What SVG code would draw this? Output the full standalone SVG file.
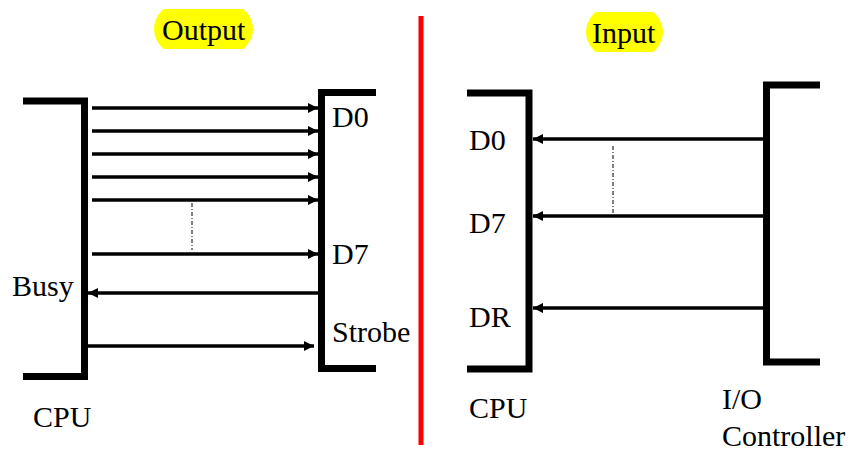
<svg xmlns="http://www.w3.org/2000/svg" width="848" height="451" viewBox="0 0 848 451">
<style>
.br{fill:none;stroke:#000;stroke-width:7;stroke-linecap:butt}
.ar{stroke:#000;stroke-width:3.5;fill:none}
.dd{stroke:#000;stroke-width:1;stroke-dasharray:4,2,1,2;fill:none}
</style>
<defs>
<marker id="ah" viewBox="0 0 10 10" refX="10" refY="5" markerWidth="11" markerHeight="10" markerUnits="userSpaceOnUse" orient="auto">
<path d="M0,0 L10,5 L0,10 z" fill="#000"/>
</marker>
<clipPath id="c1"><rect x="150" y="9" width="110" height="40"/></clipPath>
<clipPath id="c2"><rect x="580" y="12" width="90" height="40"/></clipPath>
</defs>
<rect width="848" height="451" fill="#fff"/>
<g font-family="Liberation Serif, Times New Roman, serif" font-size="30" fill="#000">
<g id="title-output">
<rect x="154" y="4" width="99" height="50" rx="25" fill="#ffff00" clip-path="url(#c1)"/>
<text x="162" y="40">Output</text>
</g>
<g id="title-input">
<rect x="586" y="7" width="77" height="50" rx="25" fill="#ffff00" clip-path="url(#c2)"/>
<text x="592" y="43">Input</text>
</g>
<g id="divider"><line x1="421" y1="16" x2="421" y2="445" stroke="#ff0000" stroke-width="5"/></g>
<g id="cpu-out">
<path class="br" d="M23,101 H84.5 V376.5 H23"/>
<text x="12" y="296">Busy</text>
<text x="33" y="427">CPU</text>
</g>
<g id="device-out">
<path class="br" d="M376,92.5 H321.5 V368.5 H376"/>
<text x="332" y="127">D0</text>
<text x="332" y="264">D7</text>
<text x="332" y="342">Strobe</text>
</g>
<g id="cpu-in">
<path class="br" d="M467,93 H529 V369 H467"/>
<text x="469" y="150">D0</text>
<text x="469" y="233">D7</text>
<text x="469" y="327">DR</text>
<text x="469" y="418">CPU</text>
</g>
<g id="io-controller">
<path class="br" d="M820,85 H766.5 V362 H820"/>
<text x="722" y="409">I/O</text>
<text x="722" y="446">Controller</text>
</g>
</g>
<g id="connectors">
<line class="ar" x1="92" y1="108" x2="318" y2="108" marker-end="url(#ah)"/>
<line class="ar" x1="92" y1="131" x2="318" y2="131" marker-end="url(#ah)"/>
<line class="ar" x1="92" y1="154" x2="318" y2="154" marker-end="url(#ah)"/>
<line class="ar" x1="92" y1="177" x2="318" y2="177" marker-end="url(#ah)"/>
<line class="ar" x1="92" y1="200" x2="318" y2="200" marker-end="url(#ah)"/>
<line class="ar" x1="92" y1="254" x2="318" y2="254" marker-end="url(#ah)"/>
<line class="ar" x1="318" y1="293" x2="88" y2="293" marker-end="url(#ah)"/>
<line class="ar" x1="88" y1="346" x2="314" y2="346" marker-end="url(#ah)"/>
<line class="dd" x1="192" y1="203" x2="192" y2="250"/>
<line class="ar" x1="763" y1="139" x2="533" y2="139" marker-end="url(#ah)"/>
<line class="ar" x1="763" y1="216" x2="533" y2="216" marker-end="url(#ah)"/>
<line class="ar" x1="763" y1="308" x2="533" y2="308" marker-end="url(#ah)"/>
<line class="dd" x1="613" y1="146" x2="613" y2="213"/>
</g>
</svg>
